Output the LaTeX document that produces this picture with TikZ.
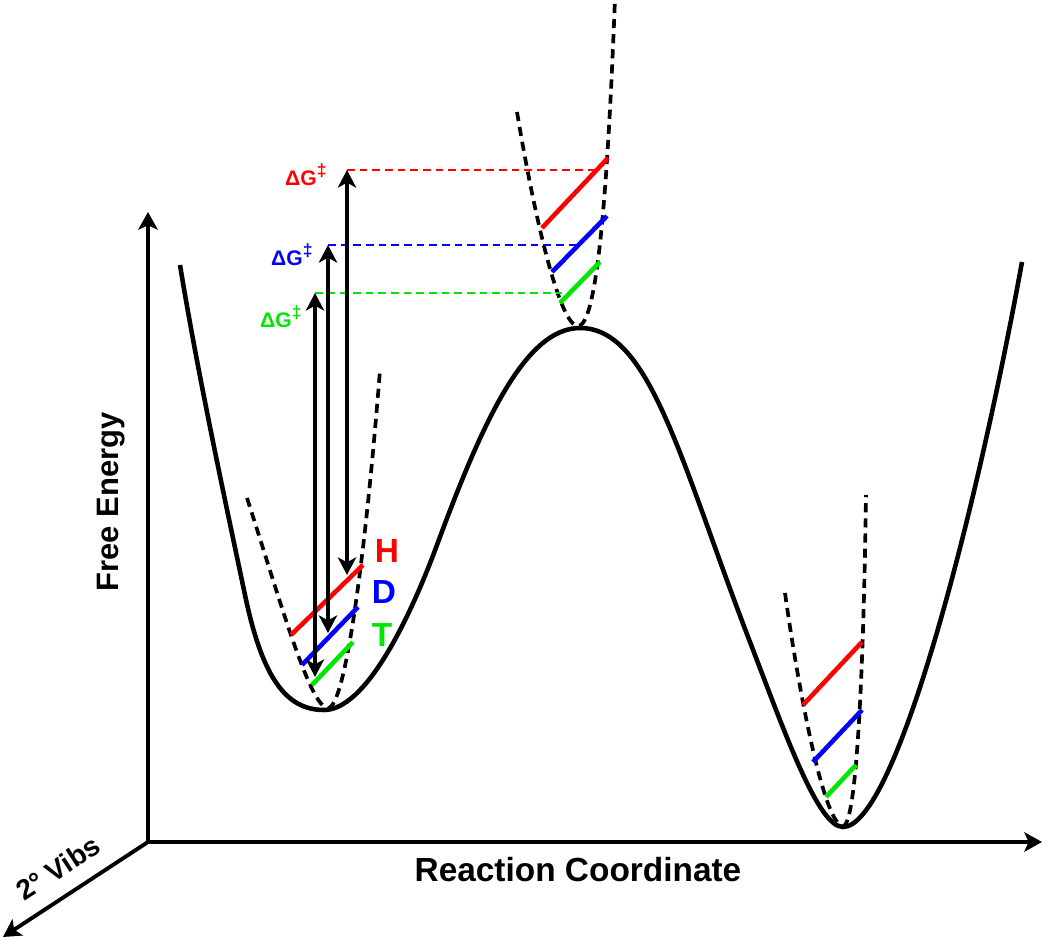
\documentclass[tikz,border=0pt]{standalone}
\usepackage{fontspec}
\setmainfont{Liberation Sans}
\usetikzlibrary{arrows.meta}
\definecolor{IsoRed}{HTML}{FF0000}
\definecolor{IsoBlue}{HTML}{0000FF}
\definecolor{IsoGreen}{HTML}{00E600}

\begin{document}
\begin{tikzpicture}[x=0.01cm,y=-0.01cm,
  axis/.style={line width=1.1pt,-{Stealth[length=5pt,width=5.5pt,inset=1.2pt]}},
  surface/.style={line width=1.3pt},
  zpe/.style={line width=1.05pt,dash pattern=on 2.6pt off 1.7pt},
  level/.style={line width=1.3pt},
  guide/.style={line width=0.6pt,dash pattern=on 2.2pt off 1.4pt},
  barrier/.style={line width=0.9pt,{Stealth[length=5pt,width=5.2pt,inset=1.4pt]}-{Stealth[length=5pt,width=5.2pt,inset=1.4pt]}},
  lab/.style={font=\bfseries\fontsize{9.5}{11}\selectfont},
  dg/.style={font=\bfseries\fontsize{6}{7}\selectfont,anchor=east,inner sep=0pt}]
\useasboundingbox (0,0) rectangle (1050,940);
% axes
\coordinate (O) at (148,842);
\coordinate (Etop) at (148,212);
\coordinate (RCend) at (1042,842);
\coordinate (Vend) at (3,937);
\draw[axis] (O) -- (Etop);
\draw[axis] (O) -- (RCend);
\draw[axis] (O) -- (Vend);
\node[lab,font=\bfseries\fontsize{8.8}{11}\selectfont,rotate=90] (fe) at (111,502) {Free Energy};
\node[lab] (rc) at (578,870) {Reaction Coordinate};
\node[lab,font=\bfseries\fontsize{8}{10}\selectfont,rotate=33,inner sep=1pt] (vib) at (58,868) {2° Vibs};
% free energy surface
\draw[surface] (180,265) .. controls (198,375) and (225,500) .. (245,595)
  .. controls (262,676) and (285,710) .. (324,710)
  .. controls (364,710) and (407,626) .. (437,545)
  .. controls (482,423) and (525,328) .. (580,328)
  .. controls (650,328) and (680,460) .. (750,642)
  .. controls (785,733) and (818,827) .. (843,827)
  .. controls (895,827) and (975,520) .. (1022,262);
% 2nd vibration wells
\draw[zpe] (247,498) .. controls (280,600) and (310,708) .. (328,708)
  .. controls (345,708) and (365,560) .. (380,370);
\draw[zpe] (517,112) .. controls (535,220) and (560,326) .. (578,326)
  .. controls (598,326) and (608,180) .. (615,-2);
\draw[zpe] (785,593) .. controls (800,700) and (825,826) .. (843,826)
  .. controls (858,826) and (864,640) .. (866,495);
% zero point levels
\draw[level,IsoRed] (291,635) -- (363,565);
\draw[level,IsoBlue] (302,665) -- (358,607);
\draw[level,IsoGreen] (312,685) -- (353,642);
\draw[level,IsoRed] (542,228) -- (608,158);
\draw[level,IsoBlue] (552,272) -- (607,216);
\draw[level,IsoGreen] (560,303) -- (600,262);
\draw[level,IsoRed] (803,705) -- (862,642);
\draw[level,IsoBlue] (813,762) -- (862,710);
\draw[level,IsoGreen] (826,797) -- (856,765);
\node[lab,text=IsoRed] (H) at (387,551) {H};
\node[lab,text=IsoBlue] (D) at (384,592) {D};
\node[lab,text=IsoGreen] (T) at (382,635) {T};
% barriers
\coordinate (Htop) at (347,170);
\coordinate (Hbot) at (347,575);
\coordinate (Dtop) at (328,245);
\coordinate (Dbot) at (328,633);
\coordinate (Ttop) at (315,293);
\coordinate (Tbot) at (315,677);
\draw[guide,IsoRed] (Htop) -- (595,170);
\draw[guide,IsoBlue] (Dtop) -- (578,245);
\draw[guide,IsoGreen] (Ttop) -- (562,293);
\draw[barrier] (Hbot) -- (Htop);
\draw[barrier] (Dbot) -- (Dtop);
\draw[barrier] (Tbot) -- (Ttop);
\node[dg,text=IsoRed] (dgH) at (329,175) {ΔG\textsuperscript{‡}};
\node[dg,text=IsoBlue] (dgD) at (315,255) {ΔG\textsuperscript{‡}};
\node[dg,text=IsoGreen] (dgT) at (304,317) {ΔG\textsuperscript{‡}};
\end{tikzpicture}
\end{document}
